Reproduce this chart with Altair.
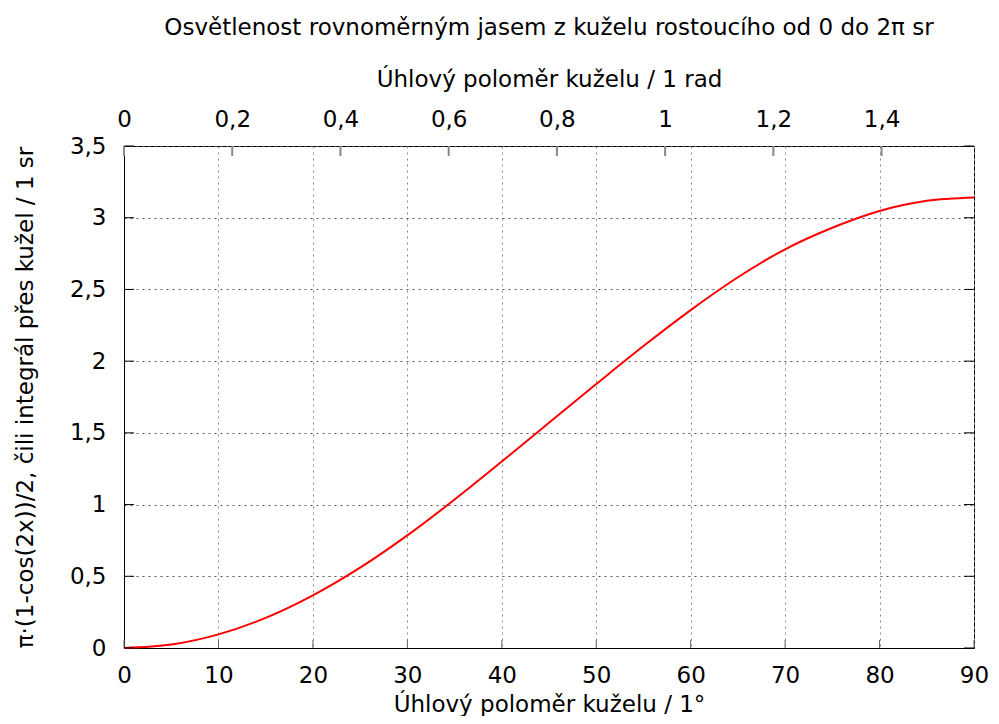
import altair as alt
import pandas as pd

# Values
deg = [0, 5, 10, 15, 20, 25, 30, 35, 40, 45, 50, 55, 60, 65, 70, 75, 80, 85, 90]
val = [0.0, 0.024, 0.095, 0.21, 0.367, 0.56, 0.785, 1.035, 1.30, 1.571, 1.84, 2.105, 2.356, 2.585, 2.78, 2.93, 3.047, 3.118, 3.1416]

deg_ticks = [0, 10, 20, 30, 40, 50, 60, 70, 80, 90]
rad_ticks = [0, 0.2, 0.4, 0.6, 0.8, 1.0, 1.2, 1.4]
y_ticks = [0, 0.5, 1, 1.5, 2, 2.5, 3, 3.5]
rad_max = 1.5708

title_text = "Osvětlenost rovnoměrným jasem z kuželu rostoucího od 0 do 2π sr"
x_title = "Úhlový poloměr kuželu / 1°"
x2_title = "Úhlový poloměr kuželu / 1 rad"
y_title = "π·(1-cos(2x))/2, čili integrál přes kužel / 1 sr"

W, H = 850, 502
FONT = "DejaVu Sans"
FS = 23
comma = "replace(datum.label, '.', ',')"

df = pd.DataFrame({"deg": deg, "val": val})
df_deg = pd.DataFrame({"d": deg_ticks})
df_rad = pd.DataFrame({"r": rad_ticks})
df_y = pd.DataFrame({"val": y_ticks})

x_scale = alt.Scale(domain=[0, 90], nice=False, zero=False)
r_scale = alt.Scale(domain=[0, rad_max], nice=False, zero=False)
y_scale = alt.Scale(domain=[0, 3.5], nice=False, zero=False)

y_axis = alt.Axis(values=y_ticks, title=y_title, grid=True, tickSize=0,
                  labelPadding=18, titlePadding=32, format="~g", labelExpr=comma)

line = alt.Chart(df).mark_line(color="#ff0000", strokeWidth=2, interpolate="monotone").encode(
    x=alt.X("deg:Q", scale=x_scale,
            axis=alt.Axis(values=deg_ticks, title=x_title, orient="bottom", grid=True,
                          gridColor="#888888", labelFlush=False,
                          tickSize=0, labelPadding=16, titlePadding=6, format="d")),
    y=alt.Y("val:Q", scale=y_scale, axis=y_axis),
)

top = alt.Chart(df_rad).mark_point(opacity=0).encode(
    x=alt.X("r:Q", scale=r_scale,
            axis=alt.Axis(values=rad_ticks, title=x2_title, orient="top", grid=False,
                          tickSize=0, labelPadding=15, titlePadding=17, format="~g",
                          labelFlush=False, labelExpr=comma, domain=False)),
    y=alt.value(0),
)

top_ticks = alt.Chart(df_rad).mark_rule(color="#888888", strokeWidth=2).encode(
    x=alt.X("r:Q", scale=r_scale, axis=None),
    y=alt.value(0), y2=alt.value(10),
)

bottom_ticks = alt.Chart(df_deg).mark_rule(color="#666666", strokeWidth=1).encode(
    x=alt.X("d:Q", scale=x_scale, axis=None),
    y=alt.value(H), y2=alt.value(H - 8),
)

left_ticks = alt.Chart(df_y).mark_rule(color="#000000", strokeWidth=1).encode(
    y=alt.Y("val:Q", scale=y_scale, axis=y_axis),
    x=alt.value(0), x2=alt.value(10),
)

right_ticks = alt.Chart(df_y).mark_rule(color="#000000", strokeWidth=1).encode(
    y=alt.Y("val:Q", scale=y_scale, axis=y_axis),
    x=alt.value(W - 10), x2=alt.value(W),
)

chart = alt.layer(line, top, top_ticks, bottom_ticks, left_ticks, right_ticks).resolve_scale(
    x="independent"
).properties(
    width=W, height=H,
    title=alt.TitleParams(title_text, font=FONT, fontSize=FS, fontWeight="normal",
                          color="#000000", anchor="middle", offset=28),
    autosize=alt.AutoSizeParams(type="none"),
    padding={"left": 116, "top": 138, "right": 17, "bottom": 68},
).configure_axis(
    labelFont=FONT, titleFont=FONT, labelFontSize=FS, titleFontSize=FS,
    labelColor="#000000", titleColor="#000000", titleFontWeight="normal",
    domainColor="#000000", domainWidth=1,
    gridColor="#555555", gridDash=[2, 4], gridWidth=1, gridOpacity=1,
).configure_view(stroke="#000000", strokeWidth=1)

chart.save("out.html", embed_options={"renderer": "svg", "actions": False})
